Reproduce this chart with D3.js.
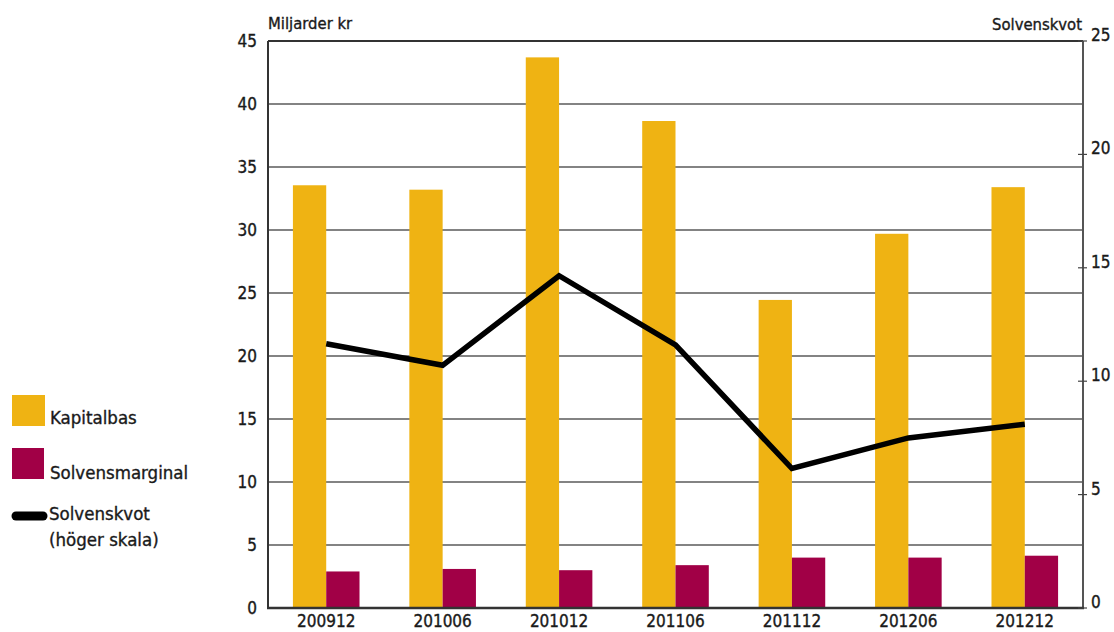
<!DOCTYPE html>
<html>
<head>
<meta charset="utf-8">
<script src="https://cdn.jsdelivr.net/npm/d3@7"></script>
<style>
  body { margin: 0; background: #fff; }
  svg text { font-family: "DejaVu Sans Condensed", "DejaVu Sans", sans-serif; font-stretch: condensed; fill: #1a1a1a; stroke: #1a1a1a; stroke-width: 0.35px; }
</style>
</head>
<body>
<svg id="chart" width="1114" height="632"></svg>
<script>
// data
const periods = ['200912', '201006', '201012', '201106', '201112', '201206', '201212'];
const kapitalbas = [33.55, 33.2, 43.7, 38.65, 24.45, 29.7, 33.4];
const solvensmarginal = [2.9, 3.1, 3.0, 3.4, 4.0, 4.0, 4.15];
const solvenskvot = [11.65, 10.7, 14.65, 11.6, 6.15, 7.5, 8.1];
const leftTicks = [0, 5, 10, 15, 20, 25, 30, 35, 40, 45];
const rightTicks = [0, 5, 10, 15, 20, 25];

const COLOR_KAP = '#EFB313';
const COLOR_SOL = '#A10046';

const plot = { left: 268, right: 1083, top: 41, bottom: 608 };
const svg = d3.select('#chart');

var x = d3.scaleBand()
    .domain(periods)
    .range([plot.left, plot.right])
    .padding(0);
const step = x.step();

// two bars per period, side by side around the band centre
var xSub = d3.scaleBand()
    .domain(['kap', 'sol'])
    .range([step * 0.214, step * 0.786])
    .padding(0);

var yLeft = d3.scaleLinear().domain([0, 45]).range([plot.bottom, plot.top]);
var yRight = d3.scaleLinear().domain([0, 25]).range([plot.bottom, plot.top]);

// gridlines
svg.append('g')
    .selectAll('line')
    .data(leftTicks.filter(t => t > 0))
    .enter()
    .append('line')
    .attr('x1', plot.left).attr('x2', plot.right)
    .attr('y1', d => yLeft(d)).attr('y2', d => yLeft(d))
    .style('stroke', d => d === 45 ? '#333' : '#5a5a5a')
    .style('stroke-width', d => d === 45 ? 2 : 1.6);

// left tick labels
svg.append('g')
    .selectAll('text')
    .data(leftTicks)
    .enter()
    .append('text')
    .attr('x', 257)
    .attr('y', d => yLeft(d) + 6)
    .attr('text-anchor', 'end')
    .style('font-size', '17px')
    .text(d => d);

// bars
var groups = svg.append('g')
    .selectAll('g')
    .data(periods)
    .enter()
    .append('g')
    .attr('transform', d => 'translate(' + x(d) + ',0)');

groups.append('rect')
    .attr('x', xSub('kap'))
    .attr('width', xSub.bandwidth())
    .attr('y', (d, i) => yLeft(kapitalbas[i]))
    .attr('height', (d, i) => plot.bottom - yLeft(kapitalbas[i]))
    .style('fill', COLOR_KAP);

groups.append('rect')
    .attr('x', xSub('sol'))
    .attr('width', xSub.bandwidth())
    .attr('y', (d, i) => yLeft(solvensmarginal[i]))
    .attr('height', (d, i) => plot.bottom - yLeft(solvensmarginal[i]))
    .style('fill', COLOR_SOL);

// axis lines
svg.append('line')
    .attr('x1', plot.left).attr('x2', plot.left)
    .attr('y1', plot.top).attr('y2', plot.bottom)
    .style('stroke', '#333').style('stroke-width', 2);
svg.append('line')
    .attr('x1', plot.right).attr('x2', plot.right)
    .attr('y1', plot.top).attr('y2', plot.bottom)
    .style('stroke', '#555').style('stroke-width', 2);
svg.append('line')
    .attr('x1', plot.left - 1).attr('x2', plot.right + 1)
    .attr('y1', plot.bottom).attr('y2', plot.bottom)
    .style('stroke', '#333').style('stroke-width', 2.5);

// right axis ticks + labels
var rightAxis = svg.append('g')
    .selectAll('g')
    .data(rightTicks)
    .enter()
    .append('g')
    .attr('transform', d => 'translate(' + plot.right + ',' + yRight(d) + ')');
rightAxis.append('line')
    .attr('x1', -5).attr('x2', 4)
    .style('stroke', '#444').style('stroke-width', 1.2);
rightAxis.append('text')
    .attr('x', 8)
    .attr('y', 0)
    .style('font-size', '17px')
    .text(d => d);

// x labels
svg.append('g')
    .selectAll('text')
    .data(periods)
    .enter()
    .append('text')
    .attr('x', d => x(d) + step / 2)
    .attr('y', 627)
    .attr('text-anchor', 'middle')
    .style('font-size', '17px')
    .text(d => d);

// solvenskvot line (right scale)
var line = d3.line()
    .x((d, i) => x(periods[i]) + step / 2)
    .y(d => yRight(d));

svg.append('path')
    .datum(solvenskvot)
    .attr('d', line)
    .style('fill', 'none')
    .style('stroke', '#000')
    .style('stroke-width', 5.5)
    .style('stroke-linejoin', 'miter');

// axis titles
svg.append('text')
    .attr('x', 268).attr('y', 29)
    .style('font-size', '16.5px')
    .text('Miljarder kr');
svg.append('text')
    .attr('x', 1082).attr('y', 30)
    .attr('text-anchor', 'end')
    .style('font-size', '16.5px')
    .text('Solvenskvot');

// legend
var legend = svg.append('g');
legend.append('rect')
    .attr('x', 12).attr('y', 395).attr('width', 33).attr('height', 31)
    .style('fill', COLOR_KAP);
legend.append('text')
    .attr('x', 50).attr('y', 424)
    .style('font-size', '18.5px')
    .text('Kapitalbas');
legend.append('rect')
    .attr('x', 12).attr('y', 448).attr('width', 32).attr('height', 31)
    .style('fill', COLOR_SOL);
legend.append('text')
    .attr('x', 50).attr('y', 479)
    .style('font-size', '18.5px')
    .text('Solvensmarginal');
legend.append('line')
    .attr('x1', 16).attr('x2', 43)
    .attr('y1', 516).attr('y2', 516)
    .style('stroke', '#000').style('stroke-width', 9)
    .style('stroke-linecap', 'round');
legend.append('text')
    .attr('x', 49).attr('y', 520)
    .style('font-size', '18.5px')
    .text('Solvenskvot');
legend.append('text')
    .attr('x', 49).attr('y', 546)
    .style('font-size', '18.5px')
    .text('(höger skala)');
</script>
</body>
</html>
